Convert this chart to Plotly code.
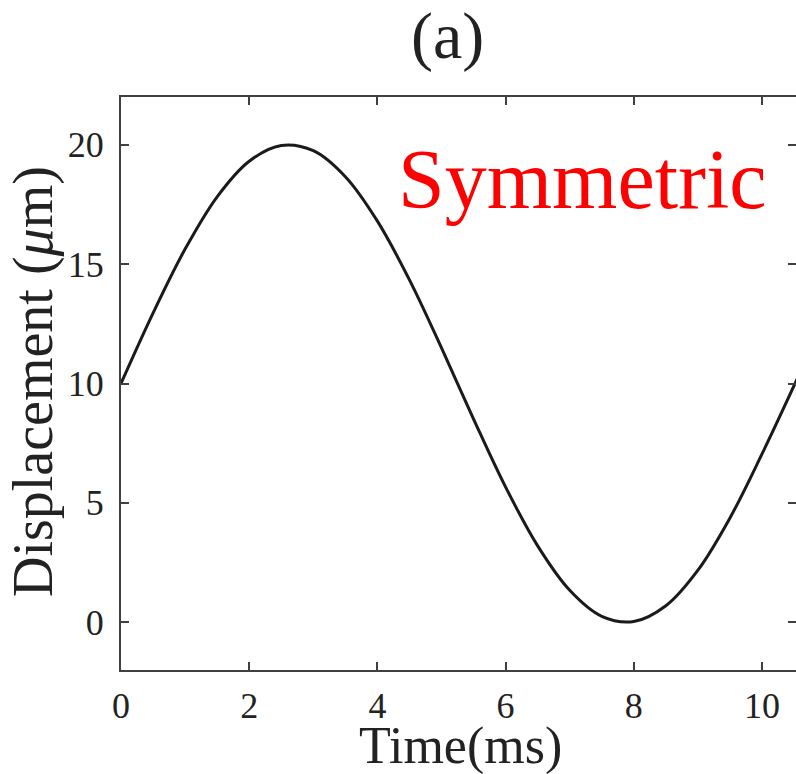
import plotly.graph_objects as go

# Values
time_ms = [0.0, 0.5, 1.0, 1.5, 2.0, 2.5, 3.0, 3.5, 4.0, 4.5, 5.0, 5.5,
           6.0, 6.5, 7.0, 7.5, 8.0, 8.5, 9.0, 9.5, 10.0, 10.55]
displacement_um = [10.0, 12.95, 15.63, 17.82, 19.31, 19.97, 19.75, 18.66, 16.80,
                   14.34, 11.49, 8.51, 5.66, 3.20, 1.34, 0.25, 0.03, 0.69,
                   2.18, 4.37, 7.05, 10.2]
x_ticks = [0, 2, 4, 6, 8, 10]
y_ticks = [0, 5, 10, 15, 20]

FONT = "Liberation Serif"
AX = "#404040"

W, H = 796, 774
L, R, T, B = 121, 0, 97, 104

fig = go.Figure()
fig.add_trace(go.Scatter(x=time_ms, y=displacement_um, mode="lines",
                         line=dict(color="#1a1a1a", width=3, shape="spline", smoothing=1.0),
                         hoverinfo="skip", showlegend=False))
fig.add_trace(go.Scatter(x=time_ms, y=displacement_um, mode="lines", yaxis="y2",
                         line=dict(color="rgba(0,0,0,0)", width=0),
                         hoverinfo="skip", showlegend=False))

axis_common = dict(showgrid=False, zeroline=False, ticks="inside", ticklen=8,
                   tickwidth=1.5, tickcolor=AX, linecolor=AX, linewidth=2,
                   showline=True,
                   tickfont=dict(family=FONT, size=36, color="#222"))

fig.update_layout(
    width=W, height=H,
    margin=dict(l=L, r=R, t=T, b=B, pad=0),
    paper_bgcolor="white", plot_bgcolor="white",
    xaxis=dict(range=[0, 10.53], tickvals=x_ticks, mirror="ticks", ticklabelstandoff=3,
               **axis_common),
    yaxis=dict(range=[-2, 22], tickvals=y_ticks, mirror=False, ticklabelstandoff=8,
               **axis_common),
    yaxis2=dict(range=[-2, 22], tickvals=y_ticks, overlaying="y", side="right",
                showticklabels=False, showgrid=False, zeroline=False, showline=False,
                ticks="inside", ticklen=8, tickwidth=1.5, tickcolor=AX),
)

def py(p):
    return (H - B - p) / (H - T - B)

fig.add_annotation(text="(a)", xref="paper", yref="paper", x=(447 - L) / (W - L - R),
                   y=py(36), xanchor="center", yanchor="middle", showarrow=False,
                   font=dict(family=FONT, size=66, color="#222"))
fig.add_annotation(text="Time(ms)", xref="paper", yref="paper", x=(461 - L) / (W - L - R),
                   y=py(746), xanchor="center", yanchor="middle", showarrow=False,
                   font=dict(family=FONT, size=52, color="#222"))
fig.add_annotation(text="Displacement (<i>μ</i>m)", xref="paper", yref="paper",
                   x=(33 - L) / (W - L - R), y=py(382), xanchor="center", yanchor="middle",
                   textangle=-90, showarrow=False,
                   font=dict(family=FONT, size=56, color="#222"))
fig.add_annotation(text="Symmetric", xref="paper", yref="paper", x=(582 - L) / (W - L - R),
                   y=py(179), xanchor="center", yanchor="middle", showarrow=False,
                   font=dict(family=FONT, size=84, color="#ff0000"))

fig.write_html("out.html")
